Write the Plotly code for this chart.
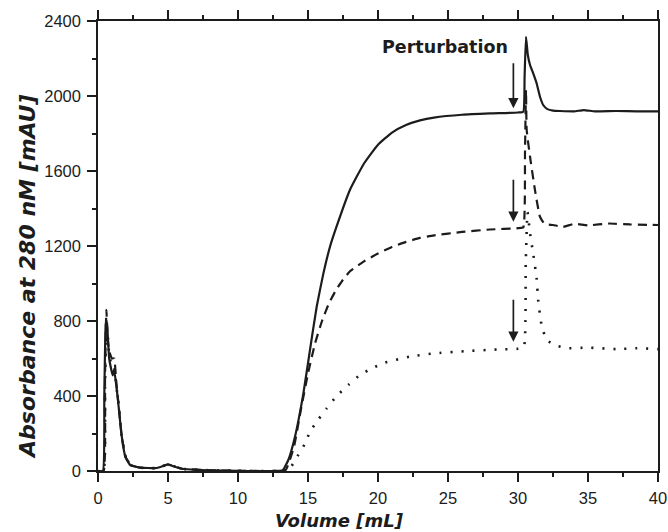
import plotly.graph_objects as go

# ---- data ----
solid_x = [0, 0.35, 0.45, 0.55, 0.62, 0.7, 0.8, 0.95, 1.05, 1.15, 1.3, 1.45, 1.7, 1.95, 2.3, 3.0, 4.2, 4.6, 5.0, 5.4,
           6.0, 7.0, 8.0, 10.0, 12.5, 13.2, 13.6, 14.07, 14.67, 15.14, 15.62, 16.1, 16.57, 17.0, 18.0, 19.0, 20.0,
           21.0, 22.0, 23.0, 24.0, 26.0, 28.0, 30.0, 30.38, 30.47, 30.57, 30.7, 30.86, 31.1, 31.33, 31.57, 31.8,
           32.1, 32.5, 33.0, 34.0, 34.7, 35.5, 37, 38.5, 40]
solid_y = [0, 0, 400, 780, 805, 720, 600, 540, 510, 540, 460, 360, 183, 76, 32, 18, 16, 25, 36, 25,
           12, 6, 4, 1, 0, 5, 60, 183, 414, 645, 876, 1054, 1196, 1295, 1500, 1640, 1740,
           1805, 1845, 1870, 1885, 1900, 1907, 1912, 1916, 2100, 2316, 2220, 2165, 2118, 2068, 1996, 1952,
           1930, 1922, 1920, 1918, 1925, 1918, 1920, 1918, 1918]

dash_x = [0, 0.4, 0.5, 0.6, 0.7, 0.8, 1.0, 1.15, 1.3, 1.5, 1.7, 2.0, 2.4, 3.0, 4.2, 5.0, 6.0, 8.0, 10, 12.5,
          13.4, 14.0, 14.5, 15.0, 15.5, 16.0, 16.5, 17.0, 17.5, 18.0, 19.0, 20.0, 21.0, 22.0, 23.0, 24.0, 26.0,
          28.0, 30.0, 30.38, 30.5, 30.57, 30.62, 30.86, 31.21, 31.57, 31.9, 32.5, 33.2, 34, 35, 36.5, 38, 40]
dash_y = [0, 0, 500, 860, 700, 640, 600, 600, 480, 330, 180, 70, 30, 18, 16, 34, 12, 4, 1, 0,
          5, 130, 330, 520, 680, 800, 895, 965, 1020, 1065, 1118, 1160, 1195, 1222, 1243, 1257, 1275,
          1288, 1295, 1300, 1700, 2032, 1819, 1676, 1499, 1356, 1318, 1312, 1302, 1318, 1310, 1320, 1315, 1312]

dot_x = [0, 0.4, 0.5, 0.6, 0.7, 0.8, 1.0, 1.15, 1.3, 1.5, 1.7, 2.0, 2.4, 3.0, 4.2, 5.0, 6.0, 8.0, 10, 12.5,
         13.6, 14.3, 14.8, 15.14, 15.74, 16.33, 17.05, 17.88, 18.71, 19.55, 20.5, 22.29, 23.95, 26.45, 28.5,
         30.0, 30.42, 30.55, 30.68, 30.86, 31.1, 31.33, 31.45, 31.7, 32.05, 32.6, 33.5, 35, 37, 38.5, 40]
dot_y = [0, 0, 450, 780, 720, 620, 560, 560, 460, 340, 180, 70, 30, 18, 16, 34, 12, 4, 1, 0,
         5, 85, 148, 210, 275, 334, 400, 459, 512, 547, 578, 610, 627, 640, 648,
         652, 660, 1100, 1380, 1268, 1152, 1028, 903, 770, 699, 672, 655, 658, 650, 655, 650]

# perturbation arrows: x, start (tail) y, end (tip) y
arrow_x = [29.67, 29.67, 29.67]
arrow_tail = [2183, 1561, 921]
arrow_tip = [1935, 1330, 690]

x_ticks = [0, 5, 10, 15, 20, 25, 30, 35, 40]
y_ticks = [0, 400, 800, 1200, 1600, 2000, 2400]

FONT = "Liberation Sans, Arial, Helvetica, sans-serif"
TFONT = "DejaVu Sans, Liberation Sans, Arial, sans-serif"
INK = "#1c1c1c"

fig = go.Figure()
fig.add_trace(go.Scatter(x=solid_x, y=solid_y, mode="lines",
                         line=dict(color=INK, width=2.2, shape="spline", smoothing=0.4)))
fig.add_trace(go.Scatter(x=dash_x, y=dash_y, mode="lines",
                         line=dict(color=INK, width=2.2, dash="9px,6px", shape="spline", smoothing=0.4)))
fig.add_trace(go.Scatter(x=dot_x, y=dot_y, mode="lines",
                         line=dict(color=INK, width=2.6, dash="2px,9px", shape="spline", smoothing=0.4)))

for xa, yt, yh in zip(arrow_x, arrow_tail, arrow_tip):
    fig.add_annotation(x=xa, y=yh, ax=xa, ay=yt, xref="x", yref="y", axref="x", ayref="y",
                       showarrow=True, arrowhead=2, arrowsize=1.2, arrowwidth=1.7, arrowcolor=INK, text="")

fig.add_annotation(x=24.82, y=2263, xref="x", yref="y", text="Perturbation", showarrow=False,
                   font=dict(family=TFONT, size=17.5, color=INK, weight="bold"))

# axis titles
fig.add_annotation(x=0.432, y=-0.111, xref="paper", yref="paper", text="Volume [mL]", showarrow=False,
                   xanchor="center", yanchor="middle",
                   font=dict(family=TFONT, size=18, color=INK, weight="bold", style="italic"))
fig.add_annotation(x=-0.127, y=0.431, xref="paper", yref="paper", text="Absorbance at 280 nM [mAU]",
                   showarrow=False, textangle=-90, xanchor="center", yanchor="middle",
                   font=dict(family=TFONT, size=22, color=INK, weight="bold", style="italic"))

axis_common = dict(showgrid=False, zeroline=False, showline=True, linecolor=INK, linewidth=1.5,
                   ticks="outside", ticklen=9, tickwidth=1.5, tickcolor=INK, automargin=False,
                   tickfont=dict(family=FONT, size=16.5, color=INK))

fig.update_xaxes(range=[0, 40], tickvals=x_ticks, ticktext=[str(v) for v in x_ticks],
                 minor=dict(dtick=2.5, ticks="outside", ticklen=4, tickwidth=1.5, tickcolor=INK),
                 mirror="allticks", ticklabelstandoff=2, **axis_common)
fig.update_yaxes(range=[0, 2400], tickvals=y_ticks, ticktext=[str(v) for v in y_ticks],
                 minor=dict(dtick=200, ticks="outside", ticklen=4, tickwidth=1.5, tickcolor=INK),
                 mirror=True, ticklabelstandoff=3, **axis_common)

fig.update_layout(width=668, height=532, margin=dict(l=98, r=10, t=21, b=61),
                  paper_bgcolor="white", plot_bgcolor="white", showlegend=False)

fig.write_html("out.html", config={"displayModeBar": False},
               post_script="document.body.style.margin='0px';document.body.style.overflow='hidden';")
